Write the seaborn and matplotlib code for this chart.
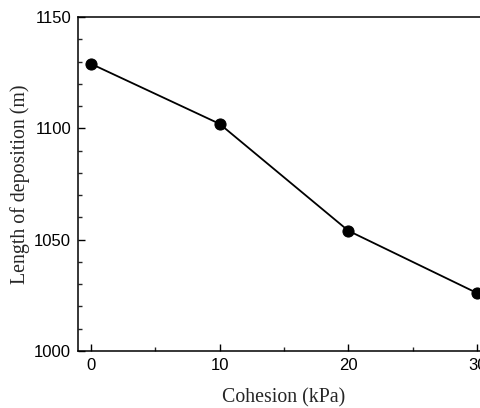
import matplotlib
matplotlib.use("Agg")
import matplotlib.pyplot as plt
from matplotlib.ticker import MultipleLocator
import seaborn as sns
import pandas as pd

# Deposition length versus soil cohesion
cohesion_kpa = [0, 10, 20, 30]
deposition_length_m = [1129, 1102, 1054, 1026]

x_ticks = [0, 10, 20, 30]
y_ticks = [1000, 1050, 1100, 1150]

df = pd.DataFrame({"cohesion": cohesion_kpa, "length": deposition_length_m})

sns.set_theme(style="ticks")
plt.rcParams["font.family"] = ["Liberation Sans", "DejaVu Sans"]

fig = plt.figure(figsize=(4.8, 4.08), dpi=100)
ax = fig.add_axes([78 / 480, 57 / 408, 412 / 480, 334 / 408])

sns.lineplot(data=df, x="cohesion", y="length", ax=ax, color="black",
             linewidth=1.3, marker="o", markersize=8,
             markeredgecolor="black", markerfacecolor="black")

ax.set_xlim(-1, 31)
ax.set_ylim(1000, 1150)
ax.set_xticks(x_ticks)
ax.set_yticks(y_ticks)
ax.xaxis.set_minor_locator(MultipleLocator(5))
ax.yaxis.set_minor_locator(MultipleLocator(10))
ax.tick_params(which="major", direction="in", length=5, width=1.0,
               labelsize=12, colors="black", pad=5)
ax.tick_params(which="minor", direction="in", length=3, width=1.0)
ax.tick_params(axis="x", which="both", top=False)
ax.tick_params(axis="y", which="both", right=False)

for side in ["left", "bottom", "top", "right"]:
    ax.spines[side].set_visible(True)
    ax.spines[side].set_linewidth(1.1)
    ax.spines[side].set_color("black")

serif = ["Liberation Serif", "DejaVu Serif"]
ax.set_xlabel("Cohesion (kPa)", fontsize=14.3, family=serif, labelpad=11)
ax.set_ylabel("Length of deposition (m)", fontsize=14.3, family=serif, labelpad=3)

fig.savefig("out.png", dpi=100)
